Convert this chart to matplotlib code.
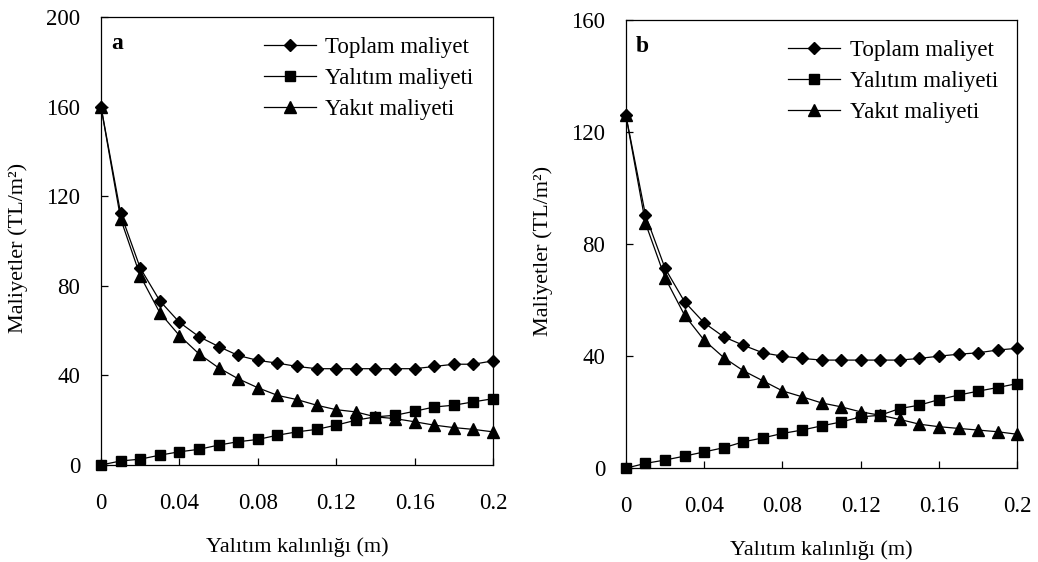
import numpy as np
import matplotlib
matplotlib.use("Agg")
import matplotlib.pyplot as plt

# kalinlik (m)
kalinlik = [0.00, 0.01, 0.02, 0.03, 0.04, 0.05, 0.06, 0.07, 0.08, 0.09, 0.10,
            0.11, 0.12, 0.13, 0.14, 0.15, 0.16, 0.17, 0.18, 0.19, 0.20]

# panel a
toplam_a = [160, 112.4, 88, 73.3, 63.7, 57.3, 52.9, 48.9, 46.7, 45.5, 44,
            43, 43, 43, 43, 43, 43, 44, 45, 45, 46.5]
yalitim_a = [0, 1.8, 2.6, 4.4, 5.9, 7.0, 8.9, 10.4, 11.4, 13.3, 14.8,
             15.9, 17.8, 20, 21.5, 22.2, 24, 25.9, 26.7, 28.2, 29.6]
yakit_a = [160, 110, 84.5, 68, 57.8, 49.6, 43.4, 38.5, 34.5, 31.1, 29.2,
           26.7, 24.7, 23.7, 21.5, 20.7, 19.3, 17.8, 16.7, 15.9, 14.8]

# panel b
toplam_b = [126, 90.4, 71.4, 59.4, 51.9, 46.9, 43.9, 41.2, 40, 39.2, 38.6,
            38.6, 38.6, 38.6, 38.6, 39.2, 40, 40.7, 41.2, 42.2, 42.8]
yalitim_b = [0, 1.7, 2.9, 4.3, 5.8, 7.3, 9.4, 10.8, 12.4, 13.6, 15.1,
             16.5, 18.3, 18.9, 21.3, 22.5, 24.5, 26.1, 27.5, 28.8, 30.2]
yakit_b = [126, 87.5, 68, 54.6, 45.7, 39.5, 34.8, 31.2, 27.6, 25.5, 23.3,
           21.9, 20.1, 18.9, 17.4, 15.7, 14.8, 14.2, 13.6, 13.0, 12.1]

xticks = [0, 0.04, 0.08, 0.12, 0.16, 0.2]
xticklabels = ["0", "0.04", "0.08", "0.12", "0.16", "0.2"]
etiketler = ["Toplam maliyet", "Yalıtım maliyeti", "Yakıt maliyeti"]

plt.rcParams['font.family'] = ['Liberation Serif', 'DejaVu Serif']

fig = plt.figure(figsize=(10.38, 5.62), dpi=100)
ax1 = fig.add_axes([0.0973, 0.1726, 0.3777, 0.797])
ax2 = fig.add_axes([0.603, 0.167, 0.377, 0.797])


def ciz(ax, toplam, yalitim, yakit, ymax, harf):
    ax.plot(kalinlik, toplam, color="k", lw=0.9, marker="D", ms=6.5,
            clip_on=False, label=etiketler[0])
    ax.plot(kalinlik, yalitim, color="k", lw=0.9, marker="s", ms=7.5,
            clip_on=False, label=etiketler[1])
    ax.plot(kalinlik, yakit, color="k", lw=0.9, marker="^", ms=8,
            clip_on=False, label=etiketler[2])
    ax.set_xlim(0, 0.2)
    ax.set_ylim(0, ymax)
    ax.set_xticks(xticks)
    ax.set_xticklabels(xticklabels)
    ax.set_yticks(np.arange(0, ymax + 1, 40))
    ax.tick_params(axis="y", direction="in", length=5, width=0.9,
                   labelsize=16.5, pad=15)
    ax.tick_params(axis="x", direction="in", length=5, width=0.9,
                   labelsize=16.5, pad=20)
    for s in ax.spines.values():
        s.set_linewidth(0.9)
    ax.set_xlabel("Yalıtım kalınlığı (m)", fontsize=16, labelpad=17)
    ax.set_ylabel("Maliyetler (TL/m²)", fontsize=16)
    ax.yaxis.set_label_coords(-0.187, 0.485)
    ax.text(0.025, 0.965, harf, transform=ax.transAxes, fontsize=17,
            fontweight="bold", va="top", ha="left")
    ax.legend(loc="upper right", frameon=False, fontsize=16.5,
              handlelength=2.3, labelspacing=0.45, borderaxespad=0.45,
              handletextpad=0.4)


ciz(ax1, toplam_a, yalitim_a, yakit_a, 200, "a")
ciz(ax2, toplam_b, yalitim_b, yakit_b, 160, "b")

fig.savefig("out.png", dpi=100)
